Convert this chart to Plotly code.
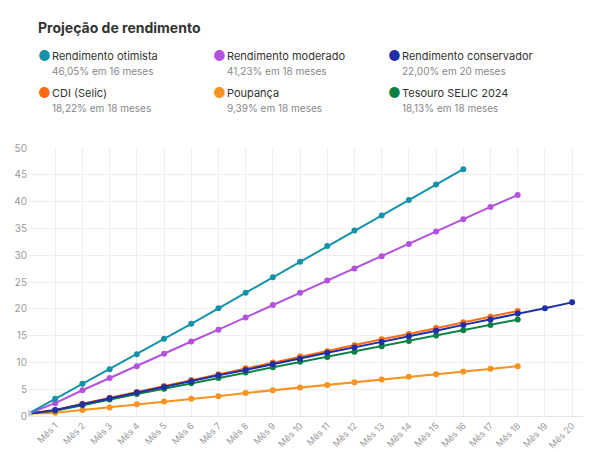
import plotly.graph_objects as go

months = list(range(0, 21))
tick_labels = [f"Mês {m}" for m in range(1, 21)]

otimista = [0.4, 3.2, 6.0, 8.7, 11.5, 14.4, 17.2, 20.1, 23.0, 25.9, 28.8, 31.7, 34.6, 37.4, 40.3, 43.2, 46.05]
moderado = [0.4, 2.4, 4.8, 7.1, 9.3, 11.6, 13.9, 16.1, 18.4, 20.7, 23.0, 25.3, 27.5, 29.8, 32.1, 34.4, 36.7, 39.0, 41.23]
conservador = [0.4, 1.1, 2.2, 3.3, 4.4, 5.4, 6.5, 7.6, 8.6, 9.7, 10.7, 11.8, 12.8, 13.8, 14.9, 15.9, 17.0, 18.0, 19.1, 20.1, 21.2]
cdi = [0.4, 1.1, 2.3, 3.4, 4.5, 5.6, 6.7, 7.8, 8.9, 10.0, 11.1, 12.1, 13.2, 14.3, 15.3, 16.4, 17.5, 18.5, 19.6]
tesouro = [0.4, 1.0, 2.0, 3.1, 4.1, 5.1, 6.1, 7.1, 8.1, 9.1, 10.1, 11.0, 12.0, 13.0, 14.0, 15.0, 16.0, 17.0, 18.0]
poupanca = [0.4, 0.6, 1.1, 1.6, 2.2, 2.7, 3.2, 3.7, 4.3, 4.8, 5.3, 5.8, 6.3, 6.8, 7.3, 7.8, 8.3, 8.8, 9.3]

series = [
    ("Poupança", poupanca, "#f7931e", "9,39% em 18 meses"),
    ("Tesouro SELIC 2024", tesouro, "#0b8043", "18,13% em 18 meses"),
    ("CDI (Selic)", cdi, "#ff6a13", "18,22% em 18 meses"),
    ("Rendimento conservador", conservador, "#1f2fa8", "22,00% em 20 meses"),
    ("Rendimento moderado", moderado, "#b452e0", "41,23% em 18 meses"),
    ("Rendimento otimista", otimista, "#1592aa", "46,05% em 16 meses"),
]

fig = go.Figure()
for name, vals, color, _ in series:
    fig.add_trace(go.Scatter(
        x=months[:len(vals)], y=vals, mode="lines+markers", name=name,
        line=dict(color=color, width=2), marker=dict(color=color, size=6),
    ))
fig.add_trace(go.Scatter(x=[0], y=[0.4], mode="markers",
                         marker=dict(color="#cccccc", size=7), showlegend=False))

W, H = 592, 452
L, R, T, B = 20, 17, 140, 44


# pixel -> plot-area paper coordinates
def px(x):
    return (x - L) / (W - L - R)


def py(y):
    return (H - B - y) / (H - T - B)


legend_order = ["Rendimento otimista", "Rendimento moderado", "Rendimento conservador",
                "CDI (Selic)", "Poupança", "Tesouro SELIC 2024"]
info = {s[0]: s for s in series}
cols = [28, 203, 378]
rows = [48, 85]
for i, name in enumerate(legend_order):
    _, _, color, sub = info[name]
    x0, y0 = cols[i % 3], rows[i // 3]
    fig.add_annotation(x=px(x0), y=py(y0), xref="paper", yref="paper", text="●",
                       showarrow=False, xanchor="left", yanchor="middle",
                       font=dict(size=14, color=color))
    fig.add_annotation(x=px(x0 + 14), y=py(y0), xref="paper", yref="paper", text=name,
                       showarrow=False, xanchor="left", yanchor="middle",
                       font=dict(size=11, color="#333333"))
    fig.add_annotation(x=px(x0 + 14), y=py(y0 + 15), xref="paper", yref="paper", text=sub,
                       showarrow=False, xanchor="left", yanchor="middle",
                       font=dict(size=10, color="#888888"))

fig.update_layout(
    width=W, height=H,
    margin=dict(l=L, r=R, t=T, b=B),
    paper_bgcolor="white", plot_bgcolor="white",
    font=dict(family="Inter, Lato, sans-serif", size=10, color="#999999"),
    showlegend=False,
    title=dict(text="<b>Projeção de rendimento</b>", x=30 / W, xanchor="left",
               y=1 - 20 / H, yanchor="middle", font=dict(size=14, color="#333333")),
)
fig.update_xaxes(range=[0, 20.4], tickvals=list(range(1, 21)), ticktext=tick_labels,
                 tickangle=-45, showgrid=True, gridcolor="#eeeeee",
                 showline=True, linecolor="#e5e5e5", zeroline=False, automargin=False,
                 tickfont=dict(size=9, color="#999999"))
fig.update_yaxes(range=[0, 50], dtick=5, showgrid=True, gridcolor="#eeeeee",
                 zeroline=False, showline=False, automargin=False,
                 tickfont=dict(size=10, color="#999999"))

fig.write_html("out.html")
